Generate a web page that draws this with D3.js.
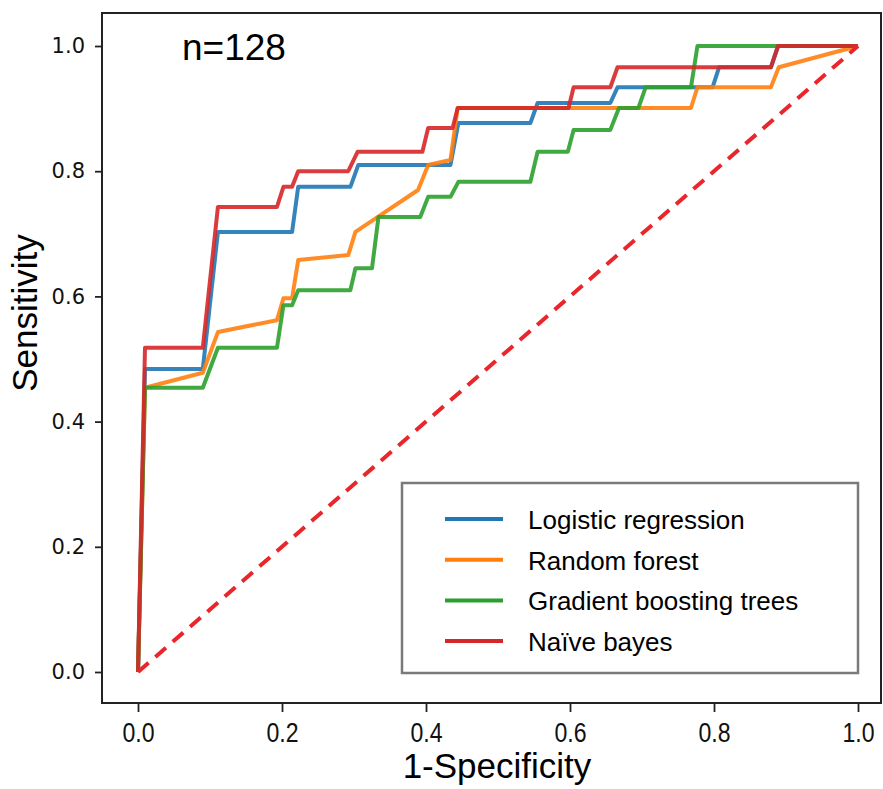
<!DOCTYPE html>
<html>
<head>
<meta charset="utf-8">
<script src="https://cdn.jsdelivr.net/npm/d3@7"></script>
<style>
  body { margin: 0; background: #fff; }
  svg { display: block; }
</style>
</head>
<body>
<svg id="chart" width="883" height="789"></svg>
<script>
// ROC curves, values
var seriesNames = ["Logistic regression", "Random forest", "Gradient boosting trees", "Naïve bayes"];
var seriesColors = ["#1f77b4", "#ff7f0e", "#2ca02c", "#d62728"];

var logisticFpr = [0, 0.0097, 0.09, 0.111, 0.214, 0.2225, 0.295, 0.306, 0.434, 0.445, 0.545, 0.555, 0.656, 0.666, 0.798, 0.807, 0.879, 0.889, 1];
var logisticTpr = [0, 0.484, 0.484, 0.703, 0.703, 0.775, 0.775, 0.810, 0.810, 0.877, 0.877, 0.909, 0.909, 0.934, 0.934, 0.966, 0.966, 1, 1];

var forestFpr = [0, 0.0097, 0.09, 0.111, 0.193, 0.202, 0.214, 0.2225, 0.292, 0.302, 0.389, 0.403, 0.434, 0.444, 0.768, 0.777, 0.879, 0.89, 1];
var forestTpr = [0, 0.454, 0.478, 0.543, 0.562, 0.597, 0.597, 0.658, 0.666, 0.703, 0.770, 0.810, 0.818, 0.901, 0.901, 0.934, 0.934, 0.966, 1];

var boostFpr = [0, 0.0097, 0.09, 0.111, 0.193, 0.202, 0.214, 0.2225, 0.295, 0.302, 0.325, 0.334, 0.392, 0.403, 0.434, 0.445, 0.545, 0.555, 0.597, 0.605, 0.656, 0.668, 0.695, 0.705, 0.768, 0.777, 1];
var boostTpr = [0, 0.454, 0.454, 0.518, 0.518, 0.586, 0.586, 0.610, 0.610, 0.645, 0.645, 0.727, 0.727, 0.759, 0.759, 0.783, 0.783, 0.831, 0.831, 0.866, 0.866, 0.901, 0.901, 0.934, 0.934, 1, 1];

var bayesFpr = [0, 0.0097, 0.09, 0.111, 0.193, 0.202, 0.214, 0.2225, 0.292, 0.305, 0.395, 0.403, 0.437, 0.444, 0.598, 0.605, 0.656, 0.666, 0.879, 0.889, 1];
var bayesTpr = [0, 0.518, 0.518, 0.743, 0.743, 0.775, 0.775, 0.80, 0.80, 0.831, 0.831, 0.869, 0.869, 0.901, 0.901, 0.934, 0.934, 0.966, 0.966, 1, 1];

var chanceLine = [0, 1];
var tickValues = [0, 0.2, 0.4, 0.6, 0.8, 1.0];

var fprs = [logisticFpr, forestFpr, boostFpr, bayesFpr];
var tprs = [logisticTpr, forestTpr, boostTpr, bayesTpr];

// Frame of the axes box (in px)
var box = {left: 102, top: 13, right: 881, bottom: 703};

var svg = d3.select("#chart");
var x = d3.scaleLinear().domain([0, 1]).range([138, 858]);
var y = d3.scaleLinear().domain([0, 1]).range([672, 46]);

// curves
var line = d3.line()
  .x(function(d) { return x(d[0]); })
  .y(function(d) { return y(d[1]); });

fprs.forEach(function(f, i) {
  var pts = f.map(function(v, j) { return [v, tprs[i][j]]; });
  svg.append("path")
    .datum(pts)
    .attr("d", line)
    .attr("fill", "none")
    .attr("stroke", seriesColors[i])
    .attr("stroke-width", 4)
    .attr("stroke-linejoin", "round")
    .attr("opacity", 0.9);
});

// chance diagonal
svg.append("path")
  .datum(chanceLine.map(function(v) { return [v, v]; }))
  .attr("d", line)
  .attr("fill", "none")
  .attr("stroke", "#e8262b")
  .attr("stroke-width", 4)
  .attr("stroke-dasharray", "14,9");

// frame
svg.append("rect")
  .attr("x", box.left).attr("y", box.top)
  .attr("width", box.right - box.left).attr("height", box.bottom - box.top)
  .attr("fill", "none").attr("stroke", "#222").attr("stroke-width", 2);

// y axis
var yAxis = svg.append("g")
  .attr("transform", "translate(" + box.left + ",0)")
  .call(d3.axisLeft(y).tickValues(tickValues).tickFormat(d3.format(".1f")).tickSize(7).tickPadding(10));
yAxis.select(".domain").remove();
yAxis.selectAll("line").attr("stroke", "#222").attr("stroke-width", 1.8);
yAxis.selectAll("text")
  .attr("font-family", "DejaVu Sans")
  .attr("font-size", 21)
  .attr("fill", "#111");

// x axis
var xAxis = svg.append("g")
  .attr("transform", "translate(0," + box.bottom + ")")
  .call(d3.axisBottom(x).tickValues(tickValues).tickFormat(d3.format(".1f")).tickSize(9));
xAxis.select(".domain").remove();
xAxis.selectAll("line").attr("stroke", "#222").attr("stroke-width", 1.8);
xAxis.selectAll("text")
  .attr("y", 0).attr("dy", null)
  .attr("transform", "translate(0,39) scale(1.05,1.22)")
  .attr("font-family", "Liberation Sans, Arial")
  .attr("font-size", 22)
  .attr("fill", "#111");

// axis titles
svg.append("text")
  .attr("x", 497).attr("y", 778)
  .attr("text-anchor", "middle")
  .attr("font-family", "Liberation Sans, Arial")
  .attr("font-size", 35)
  .text("1-Specificity");

svg.append("text")
  .attr("transform", "translate(37,313) rotate(-90)")
  .attr("text-anchor", "middle")
  .attr("font-family", "Liberation Sans, Arial")
  .attr("font-size", 35)
  .text("Sensitivity");

svg.append("text")
  .attr("x", 182).attr("y", 60)
  .attr("font-family", "Liberation Sans, Arial")
  .attr("font-size", 37)
  .text("n=128");

// legend
var legend = svg.append("g");
legend.append("rect")
  .attr("x", 402).attr("y", 483).attr("width", 456).attr("height", 190)
  .attr("fill", "#fff").attr("stroke", "#7a7a7a").attr("stroke-width", 2.5);

var rows = legend.selectAll("g.row")
  .data(seriesNames)
  .enter().append("g")
  .attr("class", "row")
  .attr("transform", function(d, i) { return "translate(0," + (519 + i * 40.7) + ")"; });
rows.append("line")
  .attr("x1", 445).attr("x2", 503)
  .attr("stroke", function(d, i) { return seriesColors[i]; })
  .attr("stroke-width", 4);
rows.append("text")
  .attr("x", 528).attr("y", 0)
  .attr("transform", "translate(0,10)")
  .attr("font-family", "Liberation Sans, Arial")
  .attr("font-size", 26)
  .text(function(d) { return d; });
</script>
</body>
</html>
